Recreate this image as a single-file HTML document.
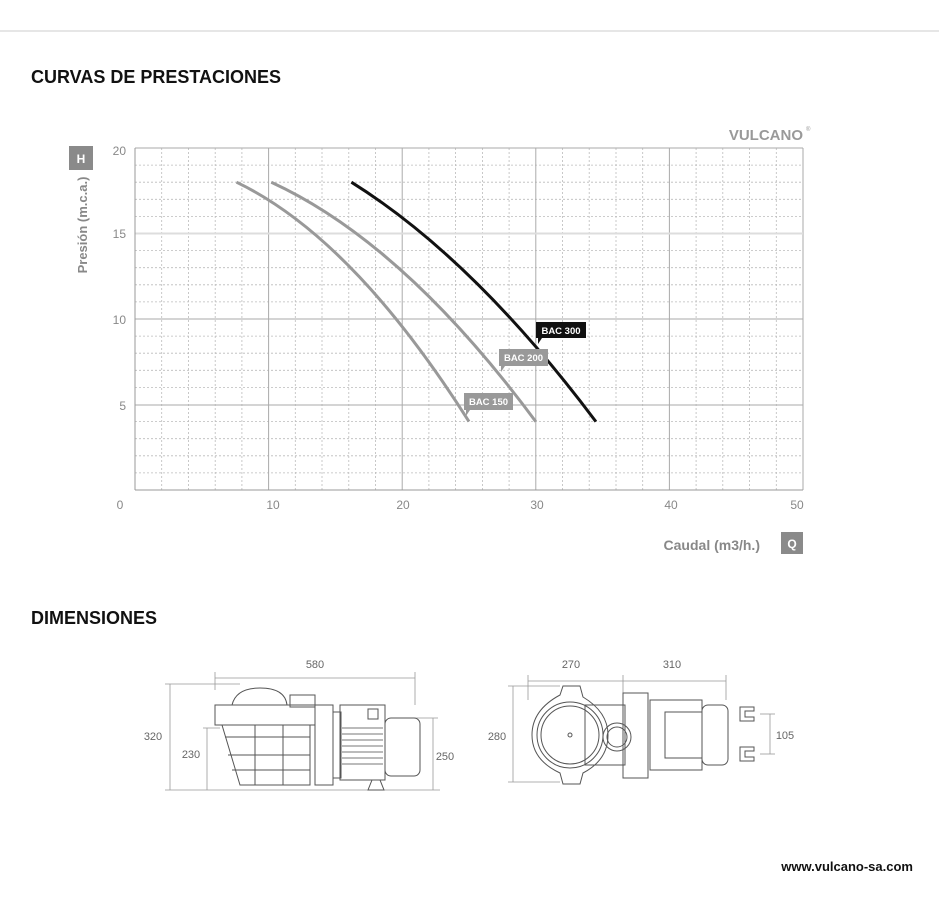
<!DOCTYPE html>
<html><head><meta charset="utf-8"><style>
body{margin:0;background:#fff;width:939px;height:901px;overflow:hidden;font-family:"Liberation Sans",sans-serif}
</style></head><body>
<svg width="939" height="901" xmlns="http://www.w3.org/2000/svg" font-family="Liberation Sans, sans-serif">
<line x1="0" y1="31" x2="939" y2="31" stroke="#ddd" stroke-width="1.5"/>
<text x="31" y="83" font-size="18" font-weight="bold" fill="#111">CURVAS DE PRESTACIONES</text>
<text x="31" y="624" font-size="18" font-weight="bold" fill="#111">DIMENSIONES</text>
<text x="913" y="871" font-size="13" font-weight="bold" fill="#111" text-anchor="end">www.vulcano-sa.com</text>
<text x="803" y="140" font-size="15" font-weight="bold" fill="#999" text-anchor="end" font-family="Liberation Sans Narrow, Liberation Sans, sans-serif">VULCANO</text>
<text x="806" y="131" font-size="6" fill="#999">®</text>
<!-- grid -->
<g stroke="#bbb" stroke-width="0.8" stroke-dasharray="2,2">
<line x1="135" y1="165.1" x2="803" y2="165.1"/><line x1="135" y1="182.2" x2="803" y2="182.2"/><line x1="135" y1="199.3" x2="803" y2="199.3"/><line x1="135" y1="216.4" x2="803" y2="216.4"/>
<line x1="135" y1="250.6" x2="803" y2="250.6"/><line x1="135" y1="267.7" x2="803" y2="267.7"/><line x1="135" y1="284.8" x2="803" y2="284.8"/><line x1="135" y1="301.9" x2="803" y2="301.9"/>
<line x1="135" y1="336.1" x2="803" y2="336.1"/><line x1="135" y1="353.2" x2="803" y2="353.2"/><line x1="135" y1="370.3" x2="803" y2="370.3"/><line x1="135" y1="387.4" x2="803" y2="387.4"/>
<line x1="135" y1="421.6" x2="803" y2="421.6"/><line x1="135" y1="438.7" x2="803" y2="438.7"/><line x1="135" y1="455.8" x2="803" y2="455.8"/><line x1="135" y1="472.9" x2="803" y2="472.9"/>
<line x1="161.7" y1="148" x2="161.7" y2="490"/><line x1="188.4" y1="148" x2="188.4" y2="490"/><line x1="215.2" y1="148" x2="215.2" y2="490"/><line x1="241.9" y1="148" x2="241.9" y2="490"/>
<line x1="295.3" y1="148" x2="295.3" y2="490"/><line x1="322" y1="148" x2="322" y2="490"/><line x1="348.8" y1="148" x2="348.8" y2="490"/><line x1="375.5" y1="148" x2="375.5" y2="490"/>
<line x1="428.9" y1="148" x2="428.9" y2="490"/><line x1="455.6" y1="148" x2="455.6" y2="490"/><line x1="482.4" y1="148" x2="482.4" y2="490"/><line x1="509.1" y1="148" x2="509.1" y2="490"/>
<line x1="562.5" y1="148" x2="562.5" y2="490"/><line x1="589.2" y1="148" x2="589.2" y2="490"/><line x1="616" y1="148" x2="616" y2="490"/><line x1="642.7" y1="148" x2="642.7" y2="490"/>
<line x1="696.1" y1="148" x2="696.1" y2="490"/><line x1="722.8" y1="148" x2="722.8" y2="490"/><line x1="749.6" y1="148" x2="749.6" y2="490"/><line x1="776.3" y1="148" x2="776.3" y2="490"/>
</g>
<g stroke="#aaa" stroke-width="1">
<line x1="135" y1="148" x2="803" y2="148"/><line x1="135" y1="319" x2="803" y2="319"/><line x1="135" y1="405" x2="803" y2="405"/>
<line x1="268.6" y1="148" x2="268.6" y2="490"/><line x1="402.2" y1="148" x2="402.2" y2="490"/><line x1="535.8" y1="148" x2="535.8" y2="490"/><line x1="669.4" y1="148" x2="669.4" y2="490"/><line x1="803" y1="148" x2="803" y2="490"/>
</g>
<line x1="135" y1="233.5" x2="803" y2="233.5" stroke="#ddd" stroke-width="2"/>
<line x1="135" y1="148" x2="135" y2="490" stroke="#999"/><line x1="135" y1="490" x2="803" y2="490" stroke="#999"/>
<g font-size="12" fill="#888">
<text x="126" y="155" text-anchor="end">20</text><text x="126" y="238" text-anchor="end">15</text><text x="126" y="324" text-anchor="end">10</text><text x="126" y="410" text-anchor="end">5</text>
<text x="120" y="509" text-anchor="middle">0</text><text x="273" y="509" text-anchor="middle">10</text><text x="403" y="509" text-anchor="middle">20</text><text x="537" y="509" text-anchor="middle">30</text><text x="671" y="509" text-anchor="middle">40</text><text x="797" y="509" text-anchor="middle">50</text>
</g>
<rect x="69" y="146" width="24" height="24" fill="#8a8a8a"/><text x="81" y="163" font-size="12" font-weight="bold" fill="#fff" text-anchor="middle">H</text>
<rect x="781" y="532" width="22" height="22" fill="#8a8a8a"/><text x="792" y="548" font-size="12" font-weight="bold" fill="#fff" text-anchor="middle">Q</text>
<text transform="translate(87,225) rotate(-90)" font-size="13" font-weight="bold" fill="#888" text-anchor="middle">Presión (m.c.a.)</text>
<text x="760" y="550" font-size="14" font-weight="bold" fill="#888" text-anchor="end">Caudal (m3/h.)</text>
<!-- curves -->
<path d="M236.5,182.2 Q352.8,238 469,421.6" fill="none" stroke="#999" stroke-width="3"/>
<path d="M271.3,182.2 Q403.5,242.9 535.8,421.6" fill="none" stroke="#999" stroke-width="3"/>
<path d="M351.4,182.2 Q473.7,258.6 595.9,421.6" fill="none" stroke="#111" stroke-width="3"/>
<rect x="536" y="322" width="50" height="16" fill="#111"/><path d="M538,338 l4,0 l-4,6z" fill="#111"/><text x="561" y="334" font-size="9.5" font-weight="bold" fill="#fff" text-anchor="middle">BAC 300</text>
<rect x="499" y="349" width="49" height="17" fill="#999"/><path d="M501,366 l4,0 l-4,6z" fill="#999"/><text x="523.5" y="361" font-size="9.5" font-weight="bold" fill="#fff" text-anchor="middle">BAC 200</text>
<rect x="464" y="393" width="49" height="17" fill="#999"/><path d="M466,410 l4,0 l-4,6z" fill="#999"/><text x="488.5" y="405" font-size="9.5" font-weight="bold" fill="#fff" text-anchor="middle">BAC 150</text>
<!-- dimensions left -->
<g stroke="#999" stroke-width="0.8" fill="none">
<line x1="215" y1="678" x2="415" y2="678"/><line x1="215" y1="672" x2="215" y2="690"/><line x1="415" y1="672" x2="415" y2="705"/>
<line x1="170" y1="684" x2="170" y2="790"/><line x1="165" y1="684" x2="240" y2="684"/>
<line x1="207" y1="728" x2="207" y2="790"/><line x1="203" y1="728" x2="220" y2="728"/>
<line x1="433" y1="718" x2="433" y2="790"/><line x1="400" y1="718" x2="438" y2="718"/>
<line x1="165" y1="790" x2="440" y2="790"/>
<line x1="528" y1="681" x2="726" y2="681"/><line x1="528" y1="675" x2="528" y2="700"/><line x1="623" y1="675" x2="623" y2="760"/><line x1="726" y1="675" x2="726" y2="700"/>
<line x1="513" y1="686" x2="513" y2="782"/><line x1="508" y1="686" x2="560" y2="686"/><line x1="508" y1="782" x2="560" y2="782"/>
<line x1="770" y1="714" x2="770" y2="754"/><line x1="760" y1="714" x2="775" y2="714"/><line x1="760" y1="754" x2="775" y2="754"/>
</g>
<g font-size="11" fill="#666" text-anchor="middle">
<text x="315" y="668">580</text><text x="153" y="740">320</text><text x="191" y="758">230</text><text x="445" y="760">250</text>
<text x="571" y="668">270</text><text x="672" y="668">310</text><text x="497" y="740">280</text><text x="785" y="739">105</text>
</g>
<g stroke="#555" stroke-width="1" fill="none">
<path d="M232,705 Q236,688 260,688 Q285,688 287,705 Z"/>
<rect x="215" y="705" width="100" height="20"/>
<path d="M222,725 L310,725 L310,785 L240,785 Z"/>
<line x1="225" y1="737" x2="310" y2="737"/><line x1="228" y1="755" x2="310" y2="755"/><line x1="232" y1="770" x2="310" y2="770"/>
<line x1="255" y1="725" x2="255" y2="785"/><line x1="283" y1="725" x2="283" y2="785"/>
<rect x="290" y="695" width="25" height="12"/>
<rect x="315" y="705" width="18" height="80"/><rect x="333" y="712" width="8" height="66"/>
<rect x="340" y="705" width="45" height="75"/>
<rect x="385" y="718" width="35" height="58" rx="6"/>
<rect x="368" y="709" width="10" height="10"/>
<path d="M372,780 l-4,10 l16,0 l-4,-10"/>
</g>
<g stroke="#777" stroke-width="1">
<line x1="342" y1="728" x2="383" y2="728"/><line x1="342" y1="734" x2="383" y2="734"/><line x1="342" y1="740" x2="383" y2="740"/><line x1="342" y1="746" x2="383" y2="746"/><line x1="342" y1="752" x2="383" y2="752"/><line x1="342" y1="758" x2="383" y2="758"/><line x1="342" y1="764" x2="383" y2="764"/>
</g>
<!-- right -->
<g stroke="#555" stroke-width="1" fill="none">
<path d="M560,695 L563,686 L580,686 L583,697 Q608,712 608,735 Q608,760 583,773 L580,784 L563,784 L560,773 Q532,760 532,735 Q532,710 560,695Z"/>
<circle cx="570" cy="735" r="33"/><circle cx="570" cy="735" r="29"/><circle cx="570" cy="735" r="2"/>
<rect x="585" y="705" width="40" height="60"/>
<circle cx="617" cy="737" r="14"/><circle cx="617" cy="737" r="10"/>
<rect x="623" y="693" width="25" height="85"/>
<rect x="650" y="700" width="52" height="70"/>
<rect x="665" y="712" width="37" height="46"/>
<rect x="702" y="705" width="26" height="60" rx="6"/>
<path d="M740,707 h14 v4 h-9 v6 h9 v4 h-14z"/><path d="M740,747 h14 v4 h-9 v6 h9 v4 h-14z"/>
</g>
</svg>
</body></html>
